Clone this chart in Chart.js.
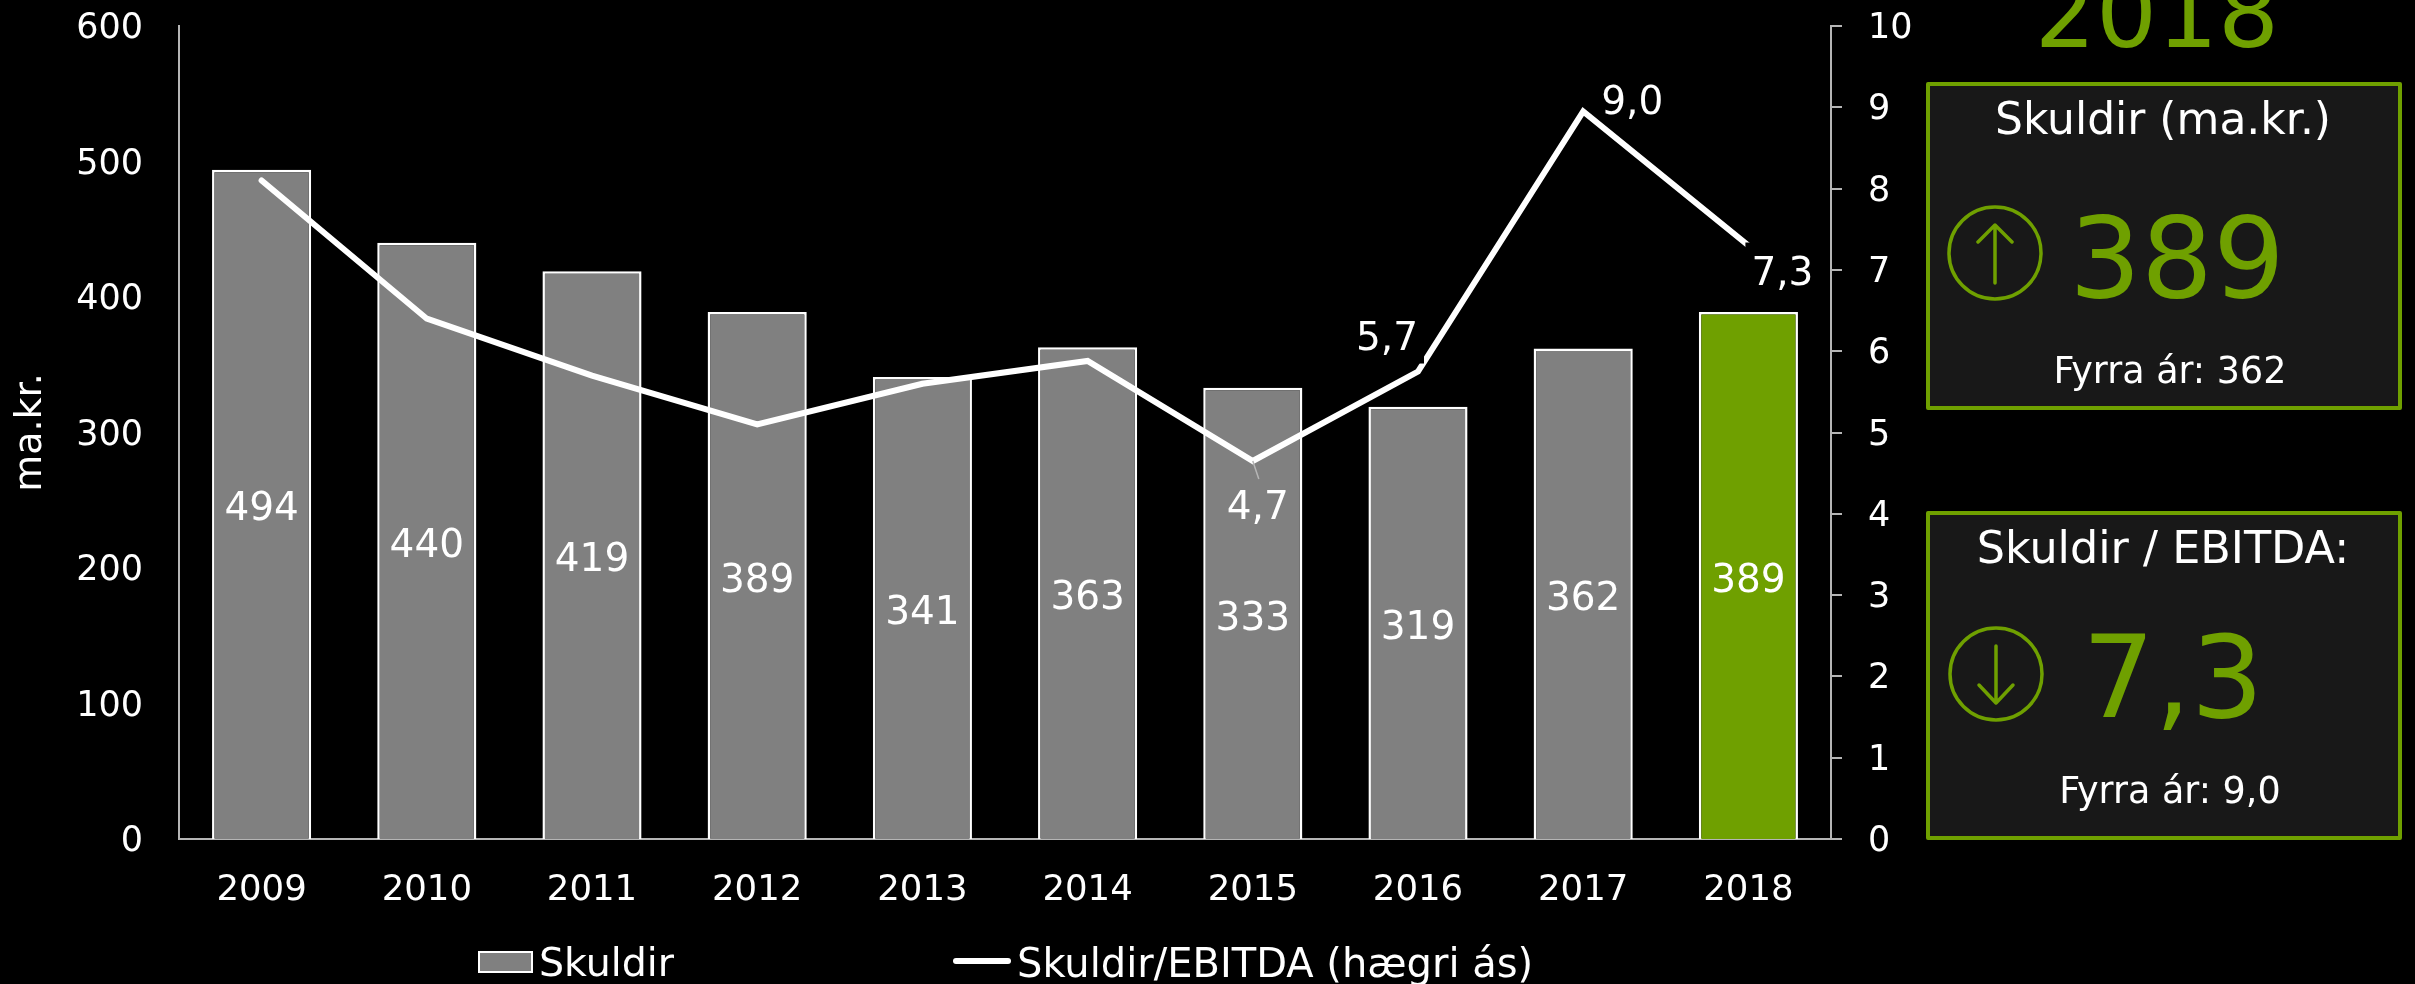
<!DOCTYPE html>
<html lang="is">
<head>
<meta charset="utf-8">
<title>Skuldir</title>
<script src="https://cdn.jsdelivr.net/npm/chart.js@4"></script>
<style>
html,body{margin:0;padding:0;background:#000;width:2415px;height:984px;overflow:hidden}
body{position:relative;font-family:"DejaVu Sans",sans-serif;color:#fff}
canvas{position:absolute;left:0;top:0}
.t{position:absolute;white-space:nowrap;transform:translateX(-50%);line-height:1}
.g{color:#6fa000}
.box{position:absolute;left:1926px;width:468px;background:#181818;border:4px solid #6fa000;border-radius:2px}
svg{position:absolute;left:0;top:0}
.leg{position:absolute;font-size:40px;line-height:1;white-space:nowrap}
.sw{position:absolute}
</style>
</head>
<body>
<canvas id="c" width="2415" height="984"></canvas>
<div class="box" style="top:82px;height:320px"></div>
<div class="box" style="top:511px;height:321px"></div>
<svg width="2415" height="984" fill="none" stroke="#6fa000" stroke-linecap="round" stroke-linejoin="round">
<circle cx="1995" cy="253" r="46" stroke-width="3.5"/>
<path d="M1995 283V225M1978 242L1995 225L2012 242" stroke-width="3.5"/>
<circle cx="1996" cy="674" r="46" stroke-width="3.5"/>
<path d="M1996 646V703M1979 685L1996 703L2013 685" stroke-width="3.5"/>
</svg>
<div class="t g" style="left:2157px;top:-34px;font-size:96px">2018</div>
<div class="t" style="left:2163px;top:97px;font-size:44px">Skuldir (ma.kr.)</div>
<div class="t g" style="left:2177px;top:202px;font-size:113px">389</div>
<div class="t" style="left:2170px;top:353px;font-size:36.5px">Fyrra ár: 362</div>
<div class="t" style="left:2163px;top:526px;font-size:44.5px">Skuldir / EBITDA:</div>
<div class="t g" style="left:2173px;top:621px;font-size:114px">7,3</div>
<div class="t" style="left:2170px;top:773px;font-size:36.5px">Fyrra ár: 9,0</div>
<div id="legend"></div>
<script>
const categories = ['2009','2010','2011','2012','2013','2014','2015','2016','2017','2018'];
const skuldir = [494,440,419,389,341,363,333,319,362,389];
const skuldirEbitda = [8.1,6.4,5.7,5.1,5.6,5.88,4.65,5.75,8.95,7.3];
const ebitdaLabels = ['','','','','','','4,7','5,7','9,0','7,3'];
const leftTicks = [0,100,200,300,400,500,600];
const rightTicks = [0,1,2,3,4,5,6,7,8,9,10];
const seriesNames = ['Skuldir','Skuldir/EBITDA (hægri ás)'];
const axisTitle = 'ma.kr.';

const GREY='#808080', GREEN='#6fa000', AXIS='#b5b5b5', FONT='"DejaVu Sans", sans-serif';

// Placement of the labels on the line, relative to their point (only these years are labelled).
const lineLabels = {
  6:{dx:5,dy:46,leader:[6,18]},
  7:{dx:-31,dy:-34,box:true},
  8:{dx:49,dy:-9},
  9:{dx:34,dy:27,box:true}
};

const labelPlugin = {
  id:'labelPlugin',
  beforeDraw(chart){
    // nudges the axis numerals down so the digits sit on their tick marks
    ['y','y1'].forEach(id=>chart.scales[id].getLabelItems().forEach(it=>{
      if(!it.nudged){it.options.translation[1]+=3;it.nudged=true;}
    }));
  },
  afterDatasetsDraw(chart){
    const {ctx} = chart;
    ctx.save();
    ctx.font = '39px '+FONT;
    ctx.textAlign='center';
    ctx.textBaseline='middle';
    const bars = chart.getDatasetMeta(1).data;
    bars.forEach((b,i)=>{
      ctx.fillStyle='#fff';
      ctx.fillText(String(skuldir[i]), b.x, (b.y+b.base)/2+6);
    });
    const pts = chart.getDatasetMeta(0).data;
    Object.keys(lineLabels).forEach(k=>{
      const i=+k, l=lineLabels[k], p=pts[i];
      const x=p.x+l.dx, y=p.y+l.dy;
      if(l.leader){
        ctx.strokeStyle='#b5b5b5'; ctx.lineWidth=1.5;
        ctx.beginPath(); ctx.moveTo(p.x,p.y); ctx.lineTo(p.x+l.leader[0],p.y+l.leader[1]); ctx.stroke();
      }
      if(l.box){
        ctx.fillStyle='#000';
        ctx.fillRect(x-37,y-30,74,56);
      }
      ctx.fillStyle='#fff';
      ctx.fillText(ebitdaLabels[i],x,y+2);
    });
    ctx.restore();
  }
};

const chart = new Chart(document.getElementById('c'),{
  data:{
    labels:categories,
    datasets:[
      {type:'line',label:seriesNames[1],data:skuldirEbitda,yAxisID:'y1',order:1,
       borderColor:'#fff',borderWidth:6,borderCapStyle:'round',borderJoinStyle:'miter',
       pointRadius:0,tension:0,fill:false},
      {type:'bar',label:seriesNames[0],data:skuldir,yAxisID:'y',order:2,
       backgroundColor:categories.map((c,i)=>i===categories.length-1?GREEN:GREY),
       borderColor:'#fff',borderWidth:2.5,barPercentage:0.6,categoryPercentage:1}
    ]
  },
  options:{
    responsive:false,animation:false,
    layout:{padding:{left:0,top:26,right:484,bottom:0}},
    plugins:{legend:{display:false},tooltip:{enabled:false},title:{display:false}},
    scales:{
      x:{offset:true,grid:{display:false},border:{color:AXIS,width:2},
         afterFit(s){s.height=145;s.paddingLeft=0;s.paddingRight=0;},
         ticks:{color:'#fff',font:{size:35.5,family:FONT},padding:22,maxRotation:0,autoSkip:false}},
      y:{position:'left',min:0,max:600,afterBuildTicks(a){a.ticks=leftTicks.map(v=>({value:v}));},
         afterFit(s){s.width=179;s.paddingTop=0;s.paddingBottom=0;},
         grid:{display:false,drawTicks:false},border:{color:AXIS,width:2},
         title:{display:true,text:axisTitle,color:'#fff',font:{size:38,family:FONT},padding:{top:8,bottom:0}},
         ticks:{color:'#fff',font:{size:35,family:FONT},padding:36}},
      y1:{position:'right',min:0,max:10,afterBuildTicks(a){a.ticks=rightTicks.map(v=>({value:v}));},
         afterFit(s){s.width=100;s.paddingTop=0;s.paddingBottom=0;},
         grid:{drawOnChartArea:false,tickLength:11,color:AXIS,lineWidth:2},border:{color:AXIS,width:2},
         ticks:{color:'#fff',font:{size:35,family:FONT},padding:26}}
    }
  },
  plugins:[labelPlugin]
});

// HTML legend built from the chart's datasets
const lg=document.getElementById('legend');
const ds=chart.data.datasets;
lg.innerHTML=
 '<div class="sw" style="left:478px;top:951px;width:51px;height:18px;background:'+GREY+';border:2px solid #fff"></div>'+
 '<div class="leg" style="left:539px;top:943px;font-size:39.5px">'+ds[1].label+'</div>'+
 '<div class="sw" style="left:953px;top:958px;width:58px;height:6px;border-radius:3px;background:#fff"></div>'+
 '<div class="leg" style="left:1017px;top:943px">'+ds[0].label+'</div>';
</script>
</body>
</html>
